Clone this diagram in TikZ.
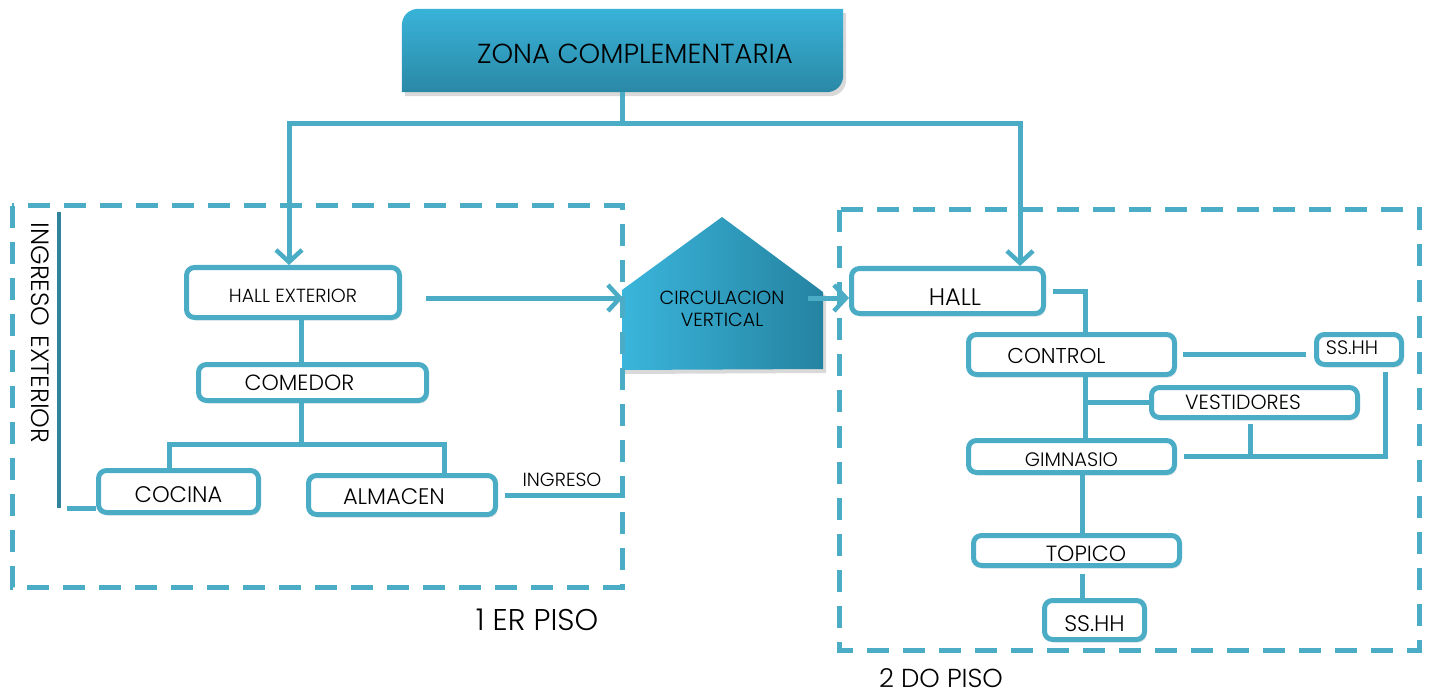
\documentclass[tikz,border=0pt]{standalone}
\usepackage{fontspec}
\setmainfont{Poppins}[UprightFont={* Light}]
\usetikzlibrary{arrows.meta,shadows,calc}
\definecolor{lineC}{HTML}{4BACC6}
\definecolor{darkC}{HTML}{31849B}
\definecolor{topA}{HTML}{39B3D9}
\definecolor{topB}{HTML}{2A88A6}
\definecolor{penA}{HTML}{3AB5DB}
\definecolor{penB}{HTML}{2583A1}
\newcommand{\fsz}[1]{\fontsize{#1pt}{#1pt}\selectfont}
\newcommand{\dn}[2]{\raisebox{-#1pt}[\height][\depth]{#2}}
\begin{document}
\begin{tikzpicture}[x=1pt,y=-1pt,
  conn/.style={draw=lineC,line width=5pt},
  arr/.style={conn,-{Straight Barb[length=12pt,width=26pt,line width=4.5pt]}},
  darr/.style={conn,{Straight Barb[length=12pt,width=26pt,line width=4.5pt]}-{Straight Barb[length=12pt,width=26pt,line width=4.5pt]}},
  rbox/.style={draw=lineC,line width=5pt,rounded corners=8pt,fill=white,inner sep=0pt,
     drop shadow={shadow xshift=2pt,shadow yshift=-3pt,opacity=0.2}},
  dashbox/.style={draw=lineC,line width=5pt,dash pattern=on 22pt off 14pt},
  txt/.style={inner sep=0pt,text=black}]
\useasboundingbox (0,0) rectangle (1430,695);

% top box
\node[minimum width=441pt,minimum height=83pt,inner sep=0pt] (zona) at (622.5,50.5) {};
\path[top color=topA,bottom color=topB,drop shadow={shadow xshift=3pt,shadow yshift=-4pt,opacity=0.3}]
  (zona.south west) -- ([yshift=-17pt]zona.north west)
  .. controls ([yshift=-7pt]zona.north west) and ([xshift=7pt]zona.north west) .. ([xshift=17pt]zona.north west)
  -- (zona.north east) -- ([yshift=17pt]zona.south east)
  .. controls ([yshift=7pt]zona.south east) and ([xshift=-7pt]zona.south east) .. ([xshift=-17pt]zona.south east)
  -- cycle;
\node[txt,font=\fsz{27.5}] (zonatxt) at (635,54) {ZONA COMPLEMENTARIA};

% pentagon
\path[left color=penA,right color=penB,drop shadow={shadow xshift=3pt,shadow yshift=-4pt,opacity=0.3}]
  (622,370) -- (622,290) -- (722,217) -- (823,292) -- (823,369) -- cycle;

% dashed zones
\draw[dashbox] (12,206) rectangle (622,587);
\draw[dashbox] (839,210) rectangle (1419,650);

\node[txt,font=\fsz{19},align=center] (circ) at (722,309) {CIRCULACION\\[3pt]VERTICAL};
\coordinate (circL) at (623,298);
\coordinate (circR) at (808,298);

% first floor boxes
\node[rbox,minimum width=213pt,minimum height=50pt,font=\fsz{19}] (hallext) at (293,292.5) {\dn{3}{HALL EXTERIOR}};
\node[rbox,minimum width=228pt,minimum height=36pt,font=\fsz{22}] (comedor) at (312.5,382.5) {COMEDOR\hspace*{26pt}};
\node[rbox,minimum width=160pt,minimum height=42pt,font=\fsz{22.5}] (cocina) at (178.5,491.5) {\dn{3}{COCINA}};
\node[rbox,minimum width=187pt,minimum height=39pt,font=\fsz{22.5}] (almacen) at (402,495) {\dn{2}{ALMACEN}\hspace*{16pt}};

% second floor boxes
\node[rbox,minimum width=192pt,minimum height=45pt,font=\fsz{24}] (hall) at (947.5,291) {\hspace*{15pt}\dn{6}{HALL}};
\node[rbox,minimum width=206pt,minimum height=40pt,font=\fsz{21.5}] (control) at (1071.5,354.5) {\dn{1}{CONTROL}\hspace*{30pt}};
\node[rbox,minimum width=85pt,minimum height=30pt,font=\fsz{19.5}] (ssh1) at (1359,349.5) {\dn{-2}{SS.HH}\hspace*{14pt}};
\node[rbox,minimum width=206pt,minimum height=30pt,font=\fsz{20.5}] (vest) at (1254.5,402.5) {VESTIDORES\hspace*{23pt}};
\node[rbox,minimum width=206pt,minimum height=32pt,font=\fsz{19.5}] (gym) at (1071.5,456.5) {\dn{3}{GIMNASIO}};
\node[rbox,minimum width=206pt,minimum height=30pt,font=\fsz{22}] (topico) at (1076.5,550.5) {\hspace*{19pt}\dn{3}{TOPICO}};
\node[rbox,minimum width=100pt,minimum height=39pt,font=\fsz{22.5}] (ssh2) at (1094.5,620) {\dn{4}{SS.HH}};

% labels
\node[txt,font=\fsz{25},rotate=-90] (ingext) at (40,333) {INGRESO\hspace{9pt}EXTERIOR};
\node[txt,font=\fsz{19}] (ing) at (562,480) {INGRESO};
\node[txt,font=\fsz{30}] (piso1) at (537,620) {1 ER PISO};
\node[txt,font=\fsz{26}] (piso2) at (941,678) {2 DO PISO};

% top connectors
\coordinate (jL) at (289,124);
\coordinate (jR) at (1020,124);
\draw[conn] (zona.south) -- (zona.south |- jL);
\draw[darr] (jL |- hallext.north) -- (jL) -- (jR) -- (jR |- hall.north);

% horizontal flow through circulation
\draw[arr] ([xshift=24pt]circL -| hallext.east) -- (circL);
\draw[arr] (circR) -- (hall.west |- circR);

% first floor connectors
\coordinate (hx) at (301,0);
\coordinate (bY) at (0,444);
\coordinate (kx) at (169,0);
\coordinate (ax) at (444,0);
\draw[conn] (hallext.south -| hx) -- (comedor.north -| hx);
\draw[conn] (comedor.south -| hx) -- (hx |- bY);
\draw[conn] (cocina.north -| kx) -- (kx |- bY) -- (ax |- bY) -- (almacen.north -| ax);
\coordinate (ingR) at (625,0);
\draw[conn] ([xshift=7pt]almacen.east) -- (almacen.east -| ingR);
\coordinate (dtop) at (59,212);
\coordinate (dbot) at (59,508);
\draw[draw=darkC,line width=4pt] (dtop) -- (dbot);
\draw[conn] ([xshift=8pt]dbot) -- (dbot -| cocina.west);

% second floor connectors
\coordinate (cx) at (1085,0);
\coordinate (sx) at (1385,0);
\coordinate (vx) at (1250,0);
\coordinate (tx) at (1082,0);
\draw[conn] ([xshift=7pt]hall.east) -| (control.north -| cx);
\draw[conn] ([xshift=6pt]control.east) -- ([xshift=-8pt]control.east -| ssh1.west);
\draw[conn] (control.south -| cx) -- (gym.north -| cx);
\draw[conn] (cx |- vest.west) -- (vest.west);
\draw[conn] ([xshift=7pt]gym.east) -- (gym.east -| sx) -- ([yshift=-5pt]ssh1.south -| sx);
\draw[conn] ([yshift=-4pt]vest.south -| vx) -- (gym.east -| vx);
\draw[conn] (gym.south -| tx) -- (topico.north -| tx);
\draw[conn] ([yshift=-6pt]topico.south -| tx) -- (ssh2.north -| tx);
\end{tikzpicture}
\end{document}
